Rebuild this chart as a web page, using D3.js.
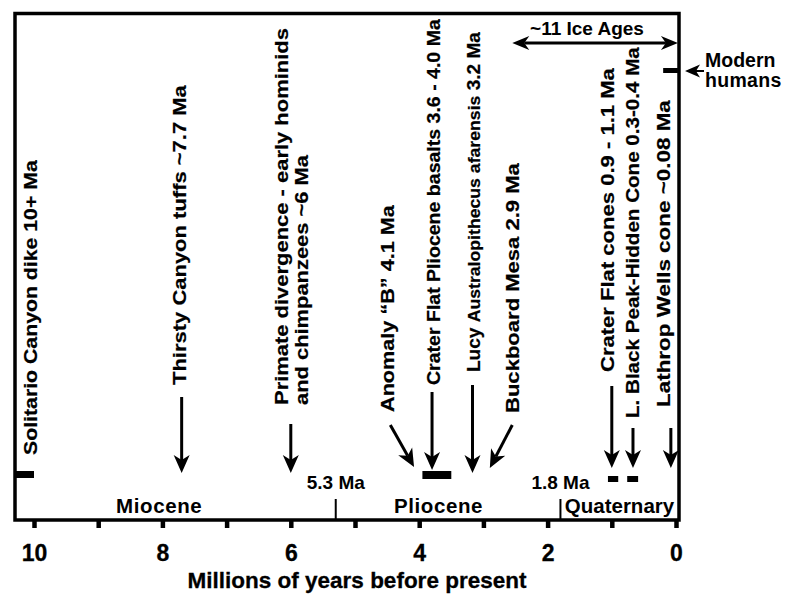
<!DOCTYPE html>
<html><head><meta charset="utf-8">
<script src="https://cdn.jsdelivr.net/npm/d3@7"></script>
<style>html,body{margin:0;padding:0;background:#fff;}svg{display:block;}</style>
</head><body>
<svg id="chart" width="794" height="596"></svg>
<script>
// ---------- DATA ----------
const tickValues = [10, 9, 8, 7, 6, 5, 4, 3, 2, 1, 0];
const tickLabels = ["10", "", "8", "", "6", "", "4", "", "2", "", "0"];
const axisTitle = "Millions of years before present";

const epochNames = ["Miocene", "Pliocene", "Quaternary"];
const epochLabelAge = [8.05, 3.7, 0.88];
const boundaryAges = [5.3, 1.8];
const boundaryLabels = ["5.3 Ma", "1.8 Ma"];

const eventLabels = [
  ["Solitario Canyon dike 10+ Ma"],
  ["Thirsty Canyon tuffs ~7.7 Ma"],
  ["Primate divergence - early hominids", "and chimpanzees ~6 Ma"],
  ["Anomaly \u201CB\u201D 4.1 Ma"],
  ["Crater Flat Pliocene basalts 3.6 - 4.0 Ma"],
  ["Lucy ", "Australopithecus afarensis", " 3.2 Ma"],
  ["Buckboard Mesa 2.9 Ma"],
  ["Crater Flat cones 0.9 - 1.1 Ma"],
  ["L. Black Peak-Hidden Cone 0.3-0.4 Ma"],
  ["Lathrop Wells cone ~0.08 Ma"]
];
const eventLabelAge = [10.06, 7.73, 6.0, 4.5, 3.78, 3.15, 2.55, 1.07, 0.67, 0.2];

// arrows: from age -> to age (tip)
const arrowFromAge = [7.7, 6.0, 4.45, 3.8, 3.17, 2.55, 1.0, 0.67, 0.08];
const arrowToAge   = [7.7, 6.0, 4.08, 3.8, 3.17, 2.9, 1.0, 0.67, 0.08];

// age range bars
const barFromAge = [10.3, 3.95, 1.06, 0.76, 0.2];
const barToAge   = [10.0, 3.5, 0.9, 0.59, -0.03];

const iceAgeSpan = [2.55, -0.03];
const iceAgeLabel = "~11 Ice Ages";
const humansLabel = ["Modern", "humans"];

// ---------- LAYOUT ----------
const frame = {left: 15, right: 679, top: 13.5, bottom: 520};
const labelSpan = [[160,455],[85,385],[[28,405],[155,405]],[205,412],[19,385],[32,372],[163,413],[68,372],[47,418],[100,407]];
const arrowY = [[397,473],[424,473],[425,467],[392,470],[385,473],[425,468],[386,468],[428,468],[428,468]];
const barY = [[471,478],[471,479],[476,482],[476,482],[68,73]];
const FONT = "'Liberation Sans', Arial, Helvetica, sans-serif";

const svg = d3.select("#chart");
const x = d3.scaleLinear().domain([10, 0]).range([34, 676]);

// frame
svg.append("rect")
  .attr("x", frame.left).attr("y", frame.top)
  .attr("width", frame.right - frame.left).attr("height", frame.bottom - frame.top)
  .attr("fill", "none").attr("stroke", "#000").attr("stroke-width", 3.5);

// axis
const axis = d3.axisBottom(x).tickValues(tickValues)
  .tickFormat((d, i) => tickLabels[i]).tickSizeOuter(0).tickSizeInner(8).tickPadding(17);
const gA = svg.append("g").attr("transform", `translate(0,${frame.bottom})`).call(axis);
gA.select(".domain").remove();
gA.selectAll(".tick line").attr("stroke", "#000").attr("stroke-width", 4.5);
gA.selectAll(".tick text").attr("font-family", FONT).attr("font-weight", "bold")
  .attr("font-size", 23).attr("fill", "#000").attr("dy", "0.71em")
  .attr("stroke", "#000").attr("stroke-width", 0.3);

svg.append("text").attr("x", 357).attr("y", 588).attr("text-anchor", "middle")
  .attr("font-family", FONT).attr("font-weight", "bold").attr("font-size", 22.5)
  .attr("stroke", "#000").attr("stroke-width", 0.3)
  .text(axisTitle);

// epoch boundaries
boundaryAges.forEach((a, i) => {
  svg.append("line").attr("x1", x(a)).attr("x2", x(a)).attr("y1", 499).attr("y2", frame.bottom)
    .attr("stroke", "#000").attr("stroke-width", 2);
  svg.append("text").attr("x", x(a)).attr("y", 489).attr("text-anchor", "middle")
    .attr("font-family", FONT).attr("font-weight", "bold").attr("font-size", 19)
    .text(boundaryLabels[i]);
});
epochNames.forEach((n, i) => {
  svg.append("text").attr("x", x(epochLabelAge[i])).attr("y", 513).attr("text-anchor", "middle")
    .attr("font-family", FONT).attr("font-weight", "bold").attr("font-size", 20.5)
    .attr("letter-spacing", i === 2 ? 0 : 0.6)
    .text(n);
});

// vertical event labels: font size fitted so the text spans the measured length
function vlabel(cx, span, parts) {
  const base = 21, small = 19.5;
  const t = svg.append("text")
    .attr("x", 0).attr("y", 0).attr("dy", "0.36em")
    .attr("font-family", FONT).attr("font-weight", "bold").attr("font-size", base)
    .attr("stroke", "#000").attr("stroke-width", 0.25);
  let mid = null;
  if (parts.length === 3) {
    t.append("tspan").text(parts[0]);
    mid = t.append("tspan").attr("font-size", small).text(parts[1]);
    t.append("tspan").text(parts[2]);
  } else {
    t.text(parts[0]);
  }
  const len = t.node().getComputedTextLength();
  const f = (span[1] - span[0]) / len;
  t.attr("font-size", base * f);
  if (mid) mid.attr("font-size", small * f);
  const k = 0.85 * 21 / (base * f);
  t.attr("transform", `translate(${cx},${span[1]}) rotate(-90) scale(1,${k})`);
}
eventLabels.forEach((lines, i) => {
  const cx = x(eventLabelAge[i]);
  if (i === 2) {
    vlabel(cx - 9, labelSpan[i][0], [lines[0]]);
    vlabel(cx + 11, labelSpan[i][1], [lines[1]]);
  } else {
    vlabel(cx, labelSpan[i], lines);
  }
});

// arrows
function arrowHead(tx, ty, ux, uy, L, W, N) {
  const nx = -uy, ny = ux;
  const bx = tx - ux * L, by = ty - uy * L;
  return `M${tx},${ty}L${bx + nx * W},${by + ny * W}L${tx - ux * (L - N)},${ty - uy * (L - N)}L${bx - nx * W},${by - ny * W}Z`;
}
function arrow(x0, y0, x1, y1, L, W, N, sw) {
  const dx = x1 - x0, dy = y1 - y0, len = Math.hypot(dx, dy);
  const ux = dx / len, uy = dy / len;
  svg.append("line").attr("x1", x0).attr("y1", y0)
    .attr("x2", x1 - ux * (L - N)).attr("y2", y1 - uy * (L - N))
    .attr("stroke", "#000").attr("stroke-width", sw);
  svg.append("path").attr("d", arrowHead(x1, y1, ux, uy, L, W, N)).attr("fill", "#000");
}
arrowFromAge.forEach((a, i) => {
  arrow(x(a), arrowY[i][0], x(arrowToAge[i]), arrowY[i][1], 18, 8, 5, 3);
});

// bars
barFromAge.forEach((a, i) => {
  const x0 = Math.min(x(a), x(barToAge[i])), x1 = Math.max(x(a), x(barToAge[i]));
  svg.append("rect").attr("x", x0).attr("y", barY[i][0])
    .attr("width", x1 - x0).attr("height", barY[i][1] - barY[i][0]).attr("fill", "#000");
});

// ice ages double arrow
(function () {
  const xl = x(iceAgeSpan[0]), xr = x(iceAgeSpan[1]), y = 43;
  svg.append("line").attr("x1", xl + 12).attr("x2", xr - 12).attr("y1", y).attr("y2", y)
    .attr("stroke", "#000").attr("stroke-width", 3);
  svg.append("path").attr("d", arrowHead(xl, y, -1, 0, 17, 7, 5)).attr("fill", "#000");
  svg.append("path").attr("d", arrowHead(xr, y, 1, 0, 17, 7, 5)).attr("fill", "#000");
  svg.append("text").attr("x", 587).attr("y", 35).attr("text-anchor", "middle")
    .attr("font-family", FONT).attr("font-weight", "bold").attr("font-size", 19)
    .text(iceAgeLabel);
})();

// modern humans
arrow(704, 71, 685, 71, 15, 6.5, 4, 2);
humansLabel.forEach((t, i) => {
  svg.append("text").attr("x", 705).attr("y", 67 + i * 20)
    .attr("font-family", FONT).attr("font-weight", "bold").attr("font-size", 19.5)
    .attr("letter-spacing", i === 1 ? 0.3 : 0)
    .text(t);
});
</script>
</body></html>
